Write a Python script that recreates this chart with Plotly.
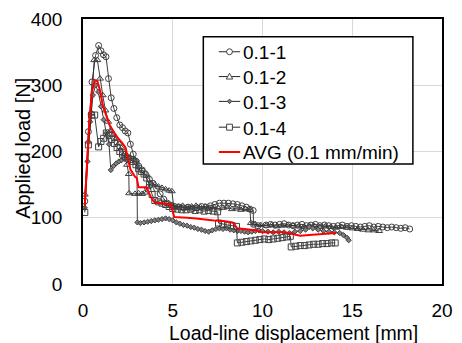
import plotly.graph_objects as go

# ---- data ----
x1 = [0.1,0.3,0.5,0.7,0.87,1.0,1.14,1.28,1.42,1.57,1.72,1.88,2.05,2.2,2.35,2.5,2.64,2.8,2.95,3.1,
      3.3,3.5,3.7,3.9,4.1,4.3,4.5,4.7,4.9,5.1,5.35,5.6,5.85,6.1,6.35,6.6,6.85,7.1,7.35,7.6,
      7.85,8.1,8.35,8.6,8.85,9.1,9.3,9.48,9.5,9.75,10.2,10.45,10.7,10.95,11.2,11.45,11.7,11.95,12.2,12.45,
      12.7,12.95,13.2,13.45,13.7,13.95,14.2,14.45,14.7,14.95,15.2,15.45,15.7,15.95,16.2,16.45,16.7,16.95,17.2,17.45,
      17.7,17.95,18.2]
y1 = [125,230,305,345,360,352,346,343,310,281,265,251,240,236,231,228,211,196,185,178,
      172,165,158,152,144,136,128,122,119,117,116,115,116,114,115,117,116,118,120,122,
      122,122,121,120,118,116,113,111,90,88,89,90,89,90,91,89,88,89,90,88,
      89,90,88,89,88,87,88,89,87,88,87,86,87,88,86,87,86,85,86,85,
      84,85,83]

x2 = [0.1,0.3,0.47,0.62,0.8,0.95,1.1,1.25,1.4,1.55,1.7,1.85,2.0,2.15,2.3,2.45,2.55,2.57,2.9,3.1,
      3.3,3.45,3.6,3.8,4.0,4.2,4.4,4.6,4.8,4.95,5.05,5.3,5.55,5.8,6.05,6.3,6.55,6.8,7.05,7.3,
      7.55,7.8,8.05,8.3,8.55,8.8,9.05,9.3,9.35,9.6,9.9,10.2,10.5,10.8,11.1,11.4,11.7,12.0,12.3,12.6,
      12.9,13.2,13.5,13.8,14.1,14.4,14.7,15.0,15.3,15.6,15.9,16.2,16.5]
y2 = [135,215,258,338,338,310,285,262,245,232,226,220,212,205,196,180,166,137,136,137,
      136,138,146,152,150,147,145,143,141,140,118,117,118,116,117,118,116,117,115,116,
      114,115,116,113,114,112,113,112,92,90,89,88,89,87,88,89,88,87,86,88,
      87,86,87,86,85,86,85,84,83,82,81,81,80]

x3 = [0.1,0.25,0.4,0.55,0.7,0.85,1.0,1.15,1.3,1.45,1.55,1.7,1.85,2.0,2.15,2.3,2.45,2.6,2.75,2.9,
      3.0,3.03,3.2,3.4,3.6,3.8,4.0,4.2,4.4,4.6,4.8,5.0,5.2,5.4,5.6,5.8,6.0,6.2,6.4,6.6,
      6.8,7.0,7.2,7.4,7.6,7.8,8.0,8.2,8.4,8.6,8.8,9.0,9.2,9.4,9.6,9.8,10.0,10.3,10.6,10.9,
      11.2,11.5,11.8,12.1,12.4,12.6,12.8,13.1,13.4,13.7,14.0,14.3,14.5,14.7,14.8]
y3 = [115,185,245,285,300,290,268,248,228,211,172,178,182,185,187,189,192,191,189,188,
      186,93,92,93,94,95,96,97,98,99,98,96,93,91,89,88,86,85,83,82,
      80,79,81,83,84,83,84,82,81,80,80,79,78,79,80,81,80,79,78,79,
      78,77,79,80,82,86,84,82,80,79,78,77,74,70,66]

x4 = [0.1,0.3,0.47,0.65,0.87,1.0,1.15,1.3,1.45,1.6,1.75,1.9,2.05,2.2,2.35,2.5,2.65,2.8,2.95,3.1,
      3.25,3.4,3.55,3.7,3.85,4.0,4.2,4.4,4.6,4.8,5.0,5.25,5.5,5.75,6.0,6.25,6.5,6.75,7.0,7.25,
      7.5,7.55,7.8,8.05,8.3,8.55,8.6,8.85,9.1,9.35,9.6,9.85,10.1,10.35,10.6,10.85,11.1,11.35,11.55,11.6,
      11.85,12.1,12.35,12.6,12.85,13.1,13.35,13.6,13.85,14.05]
y4 = [108,210,255,255,207,215,220,228,224,218,212,206,200,196,192,190,188,185,180,174,
      170,166,160,150,135,126,124,122,120,117,114,113,112,112,113,111,112,110,111,110,
      109,92,90,89,88,87,62,63,64,65,66,67,68,67,68,69,70,71,72,56,
      57,58,58,59,60,60,61,61,62,62]

xa = [0.1,0.2,0.35,0.5,0.65,0.8,0.95,1.1,1.3,1.46,1.7,1.92,2.15,2.37,2.5,2.64,2.9,3.0,3.09,3.3,
      3.54,3.7,3.85,4.0,4.3,4.6,4.9,5.08,5.4,5.8,6.3,6.8,7.3,7.8,8.33,8.6,9.0,9.6,9.96,10.5,
      11.2,11.6,12.1,12.6,13.1,13.6,14.1]
ya = [118,175,245,290,308,306,292,270,252,241,230,221,214,206,190,173,162,160,146,146,
      146,136,128,123,122,121,120,101,101,100,99,97,96,95,93,84,83,81,78,78,
      78,76,73,74,75,76,77]

names = ["0.1-1", "0.1-2", "0.1-3", "0.1-4", "AVG (0.1 mm/min)"]
symbols = ["circle-open", "triangle-up-open", "diamond", "square-open"]
FONT = "Liberation Sans, Arial, sans-serif"
LINE_C = "#262626"
MK_C = "#404040"

fig = go.Figure()
for xs, ys, sym, nm in zip([x1, x2, x3, x4], [y1, y2, y3, y4], symbols, names[:4]):
    fig.add_trace(go.Scatter(
        x=xs, y=ys, name=nm, mode="lines+markers", showlegend=False,
        line=dict(color=LINE_C, width=0.9),
        marker=dict(symbol=sym, size=4 if sym == "diamond" else 6,
                    color="#7f7f7f" if sym == "diamond" else MK_C,
                    line=dict(color=MK_C, width=1)),
    ))
fig.add_trace(go.Scatter(x=xa, y=ya, name=names[4], mode="lines", showlegend=False,
                         line=dict(color="#ff0000", width=2)))

axis_common = dict(showline=True, mirror=True, linecolor="black", linewidth=1.5,
                   showgrid=True, gridcolor="#d9d9d9", gridwidth=1, zeroline=False,
                   ticks="", tickfont=dict(family=FONT, size=19, color="black"))
fig.update_xaxes(range=[0, 20], dtick=5, tick0=0, ticklabelstandoff=8, **axis_common)
fig.update_yaxes(range=[0, 400], dtick=100, tick0=0, ticklabelstandoff=15, **axis_common)

# ---- legend box drawn in plot-area pixel geometry ----
L, T, W, H = 83, 17, 370, 267   # plot area in pixels
def px(xp): return (xp - L) / W
def py(yp): return (T + H - yp) / H

shapes = [dict(type="rect", xref="paper", yref="paper", x0=px(207), x1=px(423),
               y0=py(35), y1=py(163), line=dict(color="black", width=1.5),
               fillcolor="white", layer="above")]
annotations = []
row_y = [50, 75, 100, 126, 151]
for i, (nm, ry) in enumerate(zip(names, row_y)):
    color = "#ff0000" if i == 4 else LINE_C
    width = 2 if i == 4 else 1
    shapes.append(dict(type="line", xref="paper", yref="paper", x0=px(223), x1=px(245),
                       y0=py(ry), y1=py(ry), line=dict(color=color, width=width), layer="above"))
    cx = 234
    if i == 0:
        shapes.append(dict(type="circle", xref="paper", yref="paper", x0=px(cx - 3), x1=px(cx + 3),
                           y0=py(ry + 3), y1=py(ry - 3), line=dict(color=MK_C, width=1),
                           fillcolor="white", layer="above"))
    elif i == 1:
        path = "M {} {} L {} {} L {} {} Z".format(px(cx - 3.3), py(ry + 2.5), px(cx + 3.3), py(ry + 2.5),
                                                  px(cx), py(ry - 3.3))
        shapes.append(dict(type="path", xref="paper", yref="paper", path=path,
                           line=dict(color=MK_C, width=1), fillcolor="white", layer="above"))
    elif i == 2:
        path = "M {} {} L {} {} L {} {} L {} {} Z".format(px(cx - 2.3), py(ry), px(cx), py(ry - 2.3),
                                                          px(cx + 2.3), py(ry), px(cx), py(ry + 2.3))
        shapes.append(dict(type="path", xref="paper", yref="paper", path=path,
                           line=dict(color=MK_C, width=1), fillcolor="#7f7f7f", layer="above"))
    elif i == 3:
        shapes.append(dict(type="rect", xref="paper", yref="paper", x0=px(cx - 3), x1=px(cx + 3),
                           y0=py(ry + 3), y1=py(ry - 3), line=dict(color=MK_C, width=1),
                           fillcolor="white", layer="above"))
    annotations.append(dict(text=nm, xref="paper", yref="paper", x=px(246), y=py(ry + 1),
                            xanchor="left", yanchor="middle", showarrow=False,
                            font=dict(family=FONT, size=19, color="black")))

annotations += [
    dict(text="Load-line displacement [mm]", xref="paper", yref="paper",
         x=px(300), y=py(333), xanchor="center", yanchor="middle",
         showarrow=False, font=dict(family=FONT, size=19.5, color="black")),
    dict(text="Applied load [N]", xref="paper", yref="paper",
         x=px(21), y=py(147), xanchor="center", yanchor="middle",
         textangle=-90, showarrow=False, font=dict(family=FONT, size=20, color="black")),
]

fig.update_layout(
    width=462, height=343,
    margin=dict(l=83, r=9, t=17, b=59),
    paper_bgcolor="white", plot_bgcolor="white",
    font=dict(family=FONT, size=19, color="black"),
    showlegend=False,
    shapes=shapes,
    annotations=annotations,
)

fig.write_html("out.html")
